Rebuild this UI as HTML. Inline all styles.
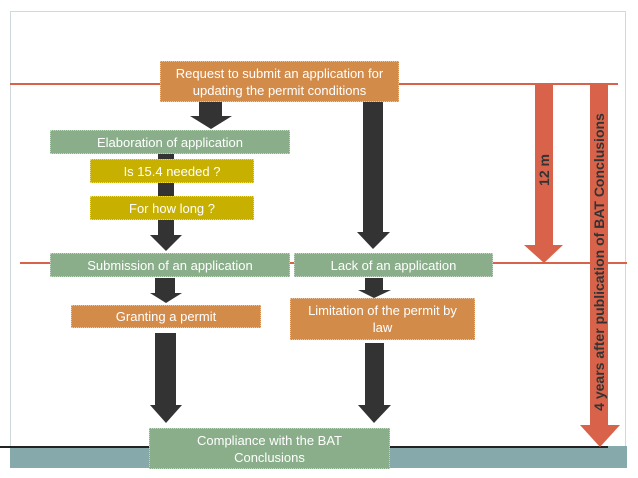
<!DOCTYPE html>
<html><head><meta charset="utf-8"><style>
body{margin:0;width:638px;height:478px;background:#fff;position:relative;overflow:hidden;font-family:"Liberation Sans",sans-serif}
.b{position:absolute;color:#fff;font-size:13px;display:flex;align-items:center;justify-content:center;text-align:center;line-height:17px;box-sizing:border-box;border:1px dotted rgba(255,255,255,.5)}
.g{background:#8aae8a}.o{background:#d38b4a}.y{background:#c8b000}
</style></head><body>
<div style="position:absolute;left:10px;top:11px;width:616px;height:456px;border:1px solid #cfdadd;box-sizing:border-box"></div>
<div style="position:absolute;left:10px;top:446px;width:617px;height:22px;background:#86a9ab"></div>
<div style="position:absolute;left:0;top:446px;width:608px;height:2px;background:#222"></div>
<div style="position:absolute;left:10px;top:83px;width:608px;height:2px;background:#d9634a"></div>
<div style="position:absolute;left:20px;top:262px;width:607px;height:2px;background:#d9634a"></div>
<svg style="position:absolute;left:0;top:0" width="638" height="478">
<g fill="#333">
<polygon points="199,102 222,102 222,116 232,116 211,129 190,116 199,116"/>
<polygon points="158,154 174,154 174,235 182,235 166,251 150,235 158,235"/>
<polygon points="363,102 383,102 383,232 390,232 373,249 357,232 363,232"/>
<polygon points="155,278 175,278 175,293 182,293 166,303 150,293 155,293"/>
<polygon points="365,278 383,278 383,290 391,290 374,298 358,290 365,290"/>
<polygon points="155,333 176,333 176,405 182,405 166,423 150,405 155,405"/>
<polygon points="365,343 384,343 384,405 391,405 374,423 358,405 365,405"/>
</g>
<g fill="#d9634a">
<polygon points="535,84 553,84 553,245 563,245 544,263 524,245 535,245"/>
<polygon points="590,84 608,84 608,425 620,425 600,447 580,425 590,425"/>
</g>
<text transform="translate(549,170) rotate(-90)" text-anchor="middle" font-family="Liberation Sans" font-weight="bold" font-size="14" fill="#333">12 m</text>
<text transform="translate(604,262) rotate(-90)" text-anchor="middle" font-family="Liberation Sans" font-weight="bold" font-size="14" fill="#333">4 years after publication of BAT Conclusions</text>
</svg>
<div class="b o" style="left:160px;top:61px;width:239px;height:41px">Request to submit an application for<br>updating the permit conditions</div>
<div class="b g" style="left:50px;top:130px;width:240px;height:24px">Elaboration of application</div>
<div class="b y" style="left:90px;top:159px;width:164px;height:24px">Is 15.4 needed ?</div>
<div class="b y" style="left:90px;top:196px;width:164px;height:24px">For how long ?</div>
<div class="b g" style="left:50px;top:253px;width:240px;height:24px">Submission of an application</div>
<div class="b g" style="left:294px;top:253px;width:199px;height:24px">Lack of an application</div>
<div class="b o" style="left:71px;top:305px;width:190px;height:23px">Granting a permit</div>
<div class="b o" style="left:290px;top:298px;width:185px;height:42px">Limitation of the permit by<br>law</div>
<div class="b g" style="left:149px;top:428px;width:241px;height:41px">Compliance with the BAT<br>Conclusions</div>
</body></html>
